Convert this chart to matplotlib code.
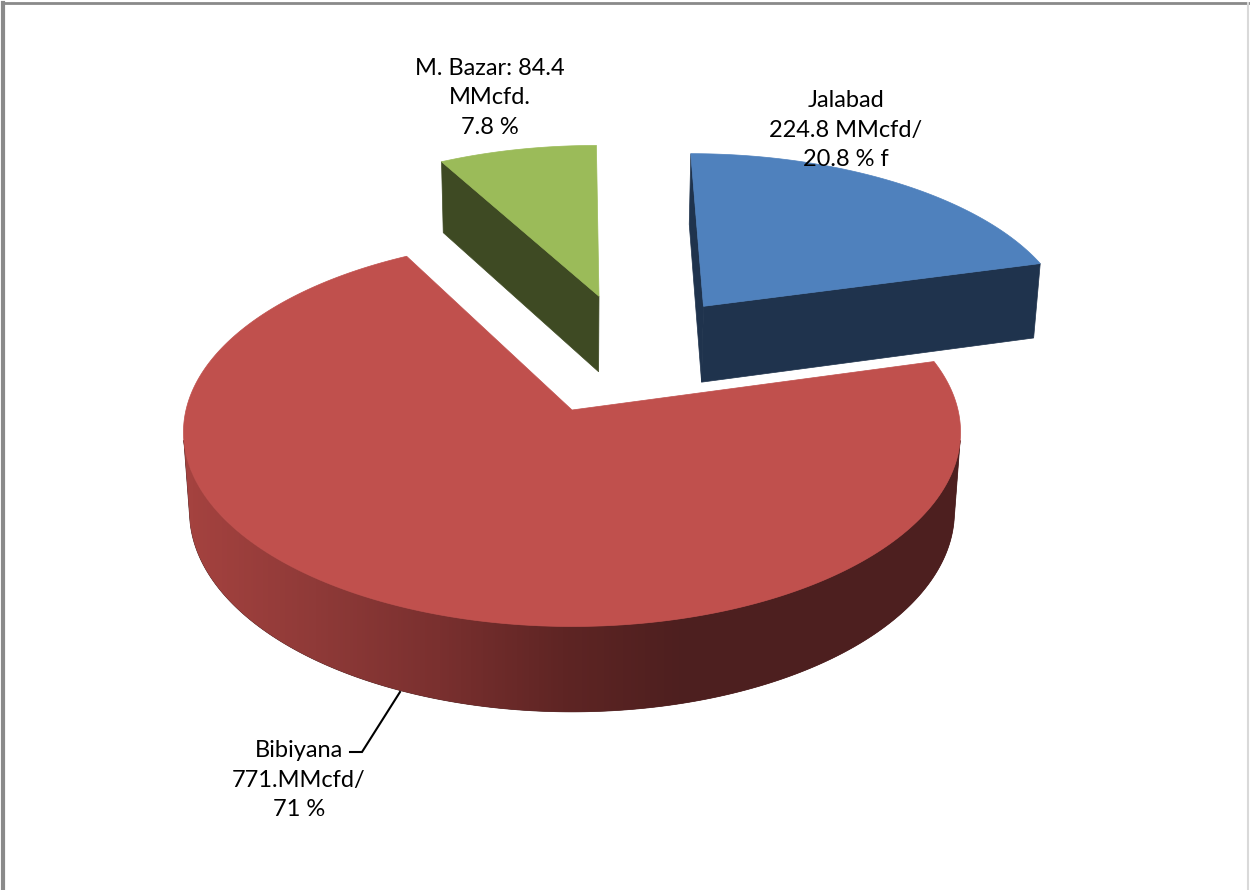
import numpy as np
import matplotlib.pyplot as plt
from matplotlib.patches import Polygon
from matplotlib.colors import LinearSegmentedColormap

# gas production by field (MMcfd), clockwise from 12 o'clock
fields = ["Jalabad", "Bibiyana", "M. Bazar"]
production = [224.8, 771.0, 84.4]
labels = [
    "Jalabad\n224.8 MMcfd/\n20.8 % f",
    "Bibiyana\n771.MMcfd/\n71 %",
    "M. Bazar: 84.4\nMMcfd.\n7.8 %",
]

top_colors = ["#4f81bd", "#c0504d", "#9bbb59"]
cut_colors = ["#1f334d", "#4d1f1f", "#3e4a23"]

# explode offsets in pie-radius units (right, away from viewer)
explode = [(0.363, 0.576), (0.0, 0.0), (0.075, 0.636)]

# projection settings
CX, CY = 572, 410
R = 386
ELEV = np.radians(29.8)
DIST = 7.62
H = 0.24
S, C = np.sin(ELEV), np.cos(ELEV)


def proj(u, v, z):
    u, v, z = np.asarray(u, float), np.asarray(v, float), np.asarray(z, float)
    depth = DIST + v * C - z * S
    k = DIST / depth
    return CX + R * u * k, CY - R * (v * S + z * C) * k


def facing(nu, nv, pu, pv):
    # camera sits at (0, -DIST*C, DIST*S)
    return nu * (0 - pu) + nv * (-DIST * C - pv) > 0


wall_cmap = LinearSegmentedColormap.from_list(
    "wall", ["#a4423f", "#8f3a38", "#7a302f", "#5f2524", "#4d1f1f", "#4d1f1f"])

fig = plt.figure(figsize=(12.5, 8.9), dpi=100)
ax = fig.add_axes([0, 0, 1, 1])
ax.set_xlim(0, 1250)
ax.set_ylim(890, 0)
ax.axis("off")

total = sum(production)
bounds = np.concatenate([[0], np.cumsum(production) / total * 360])

# far slices first, Bibiyana in front last
for i in [2, 0, 1]:
    t1, t2 = np.radians(bounds[i]), np.radians(bounds[i + 1])
    ou, ov = explode[i]
    th = np.linspace(t1, t2, 600)
    ru, rv = ou + np.sin(th), ov + np.cos(th)

    # radial cut faces
    for t, sign in [(t1, -1), (t2, 1)]:
        nu, nv = sign * np.cos(t), -sign * np.sin(t)
        if facing(nu, nv, ou, ov):
            eu, ev = ou + np.sin(t), ov + np.cos(t)
            xs, ys = proj([ou, eu, eu, ou], [ov, ev, ev, ov], [0, 0, -H, -H])
            ax.add_patch(Polygon(np.column_stack([xs, ys]), closed=True,
                                 facecolor=cut_colors[i], edgecolor=cut_colors[i],
                                 lw=0.5, zorder=2))

    # outer wall: only the part turned towards the viewer
    vis = facing(np.sin(th), np.cos(th), ru, rv)
    if vis.any():
        wu, wv = ru[vis], rv[vis]
        xt, yt = proj(wu, wv, np.zeros(len(wu)))
        xb, yb = proj(wu, wv, np.full(len(wu), -H))
        wall = Polygon(np.column_stack([np.concatenate([xt, xb[::-1]]),
                                        np.concatenate([yt, yb[::-1]])]),
                       closed=True, facecolor=cut_colors[i],
                       edgecolor=cut_colors[i], lw=0.5, zorder=2)
        ax.add_patch(wall)
        if i == 1:
            # shaded left to right
            grad = np.linspace(0, 1, 620).reshape(1, -1)
            img = ax.imshow(grad, cmap=wall_cmap, aspect="auto",
                            extent=(190, 810, 900, 0), zorder=2.5)
            img.set_clip_path(wall)
            ax.imshow(np.ones((1, 1)), cmap=LinearSegmentedColormap.from_list(
                "end", ["#4d1f1f", "#4d1f1f"]), aspect="auto",
                extent=(809, 1000, 900, 0), zorder=2.5).set_clip_path(wall)
            ax.imshow(np.zeros((1, 1)), cmap=wall_cmap, aspect="auto",
                      extent=(150, 191, 900, 0), zorder=2.5).set_clip_path(wall)

    # top face
    xs, ys = proj(np.concatenate([[ou], ru]), np.concatenate([[ov], rv]),
                  np.zeros(len(ru) + 1))
    ax.add_patch(Polygon(np.column_stack([xs, ys]), closed=True,
                         facecolor=top_colors[i], edgecolor=top_colors[i],
                         lw=0.5, zorder=3))

ax.set_xlim(0, 1250)
ax.set_ylim(890, 0)

font = dict(family=["Lato", "DejaVu Sans"], fontsize=17, color="black",
            ha="center", va="center", linespacing=1.5, zorder=5)
ax.text(846, 130, labels[0], **font)
ax.text(299, 780, labels[1], **font)
ax.text(490, 98, labels[2], **font)

# leader line for Bibiyana
ax.plot([350, 362, 400], [752, 752, 692], color="black", lw=1.5,
        solid_joinstyle="miter", zorder=4)

# chart area border
ax.plot([2.5, 2.5], [890, 2.5], color="#8a8a8a", lw=3, zorder=6)
ax.plot([2.5, 1250], [2.5, 2.5], color="#8a8a8a", lw=2, zorder=6)
ax.plot([1248, 1248], [2.5, 890], color="#d9d9d9", lw=1.5, zorder=6)

fig.savefig("out.png", dpi=100)
